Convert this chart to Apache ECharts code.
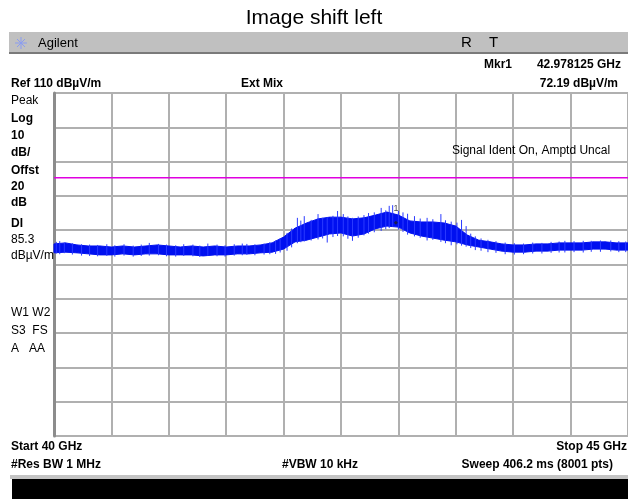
<!DOCTYPE html>
<html><head><meta charset="utf-8">
<script src="https://cdn.jsdelivr.net/npm/echarts@6/dist/echarts.min.js"></script>
<style>html,body{margin:0;padding:0;background:#fff}#c{width:628px;height:499px}</style>
</head><body><div id="c"></div>
<script>
// Frequency grid (GHz) for the trace envelope
const freqs = [40.0,40.1,40.2,40.3,40.4,40.5,40.6,40.7,40.8,40.9,41.0,41.1,41.2,41.3,41.4,41.5,41.6,41.7,41.8,41.9,42.0,42.1,42.2,42.3,42.4,42.5,42.6,42.7,42.8,42.9,43.0,43.1,43.2,43.3,43.4,43.5,43.6,43.7,43.8,43.9,44.0,44.1,44.2,44.3,44.4,44.5,44.6,44.7,44.8,44.9,45.0];
// Upper / lower envelope of the noisy trace (dBuV/m)
const upper = [66.0,66.3,65.7,65.4,65.4,65.1,65.4,65.1,65.4,65.7,65.4,65.1,65.4,65.1,65.4,65.1,65.4,65.4,65.7,66.3,68.0,70.6,72.1,73.3,73.8,73.8,73.3,73.6,74.4,75.3,74.4,72.7,72.4,72.4,72.1,71.2,68.6,67.1,66.6,66.0,65.7,65.7,66.0,66.0,66.3,66.3,66.3,66.6,66.6,66.3,66.3];
const lower = [63.4,63.6,63.4,63.1,62.8,62.8,63.1,62.8,63.1,63.1,62.8,62.8,62.8,62.5,62.8,62.8,63.1,63.1,63.4,63.6,64.5,66.6,67.1,68.0,68.9,69.2,68.3,68.9,70.4,71.2,70.9,69.2,68.3,67.7,67.1,66.6,65.7,65.1,64.5,63.9,63.6,63.6,63.9,63.9,64.2,64.2,64.2,64.5,64.5,64.2,64.2];
// Noise spikes: [freq, low, high]
const spikes = [
 [40.02,63.2,66.6],[40.05,63.0,66.8],[40.09,63.3,66.4],[40.16,62.9,66.2],[40.24,62.6,65.9],[40.31,62.5,65.8],[40.38,62.4,65.7],[40.46,62.5,65.9],[40.53,62.3,65.6],[40.61,62.6,65.9],[40.69,62.3,65.5],[40.76,62.5,65.8],[40.83,62.6,66.3],[40.91,62.7,66.0],[40.98,62.4,65.8],[41.06,62.3,65.6],[41.13,62.5,65.9],[41.21,62.4,65.8],[41.27,62.2,65.5],[41.34,62.5,66.1],[41.42,62.4,65.8],[41.49,62.3,65.6],[41.57,62.6,65.9],[41.64,62.7,66.1],[41.68,62.8,66.0],[41.75,62.7,65.9],[41.83,62.9,66.1],[41.88,63.0,66.5],[41.93,63.1,67.0],[41.97,63.5,67.6],[42.03,64.0,69.2],[42.07,65.0,70.5],[42.12,66.2,73.6],[42.15,66.5,72.8],[42.18,66.7,74.1],[42.24,67.0,73.0],[42.30,67.3,74.7],[42.34,67.6,73.6],[42.38,66.4,73.8],[42.43,68.0,74.2],[42.47,68.3,75.6],[42.52,68.2,74.7],[42.56,67.5,74.0],[42.60,66.9,73.6],[42.65,67.8,74.0],[42.70,68.5,74.4],[42.74,69.0,75.0],[42.79,69.4,75.2],[42.85,69.8,76.5],[42.89,70.3,75.8],[42.92,70.6,77.1],[42.95,71.0,77.3],[43.00,70.2,75.6],[43.04,69.5,75.2],[43.08,68.7,74.8],[43.14,68.2,74.1],[43.19,67.8,73.4],[43.25,67.0,73.6],[43.30,67.2,73.2],[43.37,66.6,74.7],[43.41,66.2,72.9],[43.46,65.6,72.5],[43.51,65.9,72.2],[43.55,65.5,73.0],[43.59,65.2,71.2],[43.63,64.8,69.0],[43.67,64.2,68.2],[43.72,64.0,67.6],[43.78,63.6,67.2],[43.85,63.4,66.8],[43.93,63.0,66.4],[44.01,62.9,66.2],[44.09,63.0,66.1],[44.17,63.2,66.4],[44.25,63.2,66.3],[44.33,63.4,66.6],[44.40,63.5,66.7],[44.45,63.5,66.9],[44.53,63.6,66.8],[44.61,63.5,66.9],[44.68,63.7,66.9],[44.76,63.7,67.0],[44.85,63.8,67.0],[44.92,63.6,66.8],[44.98,63.6,66.7]
];
const displayLine = 85.3;
const marker = [42.978125, 72.19];
const xTicks = {min:40, max:45, interval:0.5};
const yTicks = {min:10, max:110, interval:10};

const chart = echarts.init(document.getElementById('c'), null, {renderer:'canvas'});
const F = 'Liberation Sans, Arial, sans-serif';
const bandData = freqs.map((f,i)=>[f, lower[i], upper[i]]);
function txt(x,y,t,opt){return {type:'text',x:x,y:y,z:100,style:{text:t,fill:'#000',font:(opt&&opt.font)||('bold 12px '+F),textAlign:(opt&&opt.align)||'left',textVerticalAlign:'middle'}};}
const g = [
  {type:'rect',shape:{x:9,y:32,width:630,height:21},style:{fill:'#c0c0c0'}},
  {type:'rect',shape:{x:9,y:52,width:630,height:2},style:{fill:'#7a7a7a'}},
  {type:'rect',shape:{x:10,y:475,width:630,height:4},style:{fill:'#c4c4c4'}},
  {type:'rect',shape:{x:12,y:479,width:630,height:20},style:{fill:'#000'}},
  {type:'line',shape:{x1:15,y1:43,x2:27,y2:43},style:{stroke:'#8a9cf0',lineWidth:1}},
  {type:'line',shape:{x1:21,y1:37,x2:21,y2:49},style:{stroke:'#8a9cf0',lineWidth:1}},
  {type:'line',shape:{x1:17,y1:39,x2:25,y2:47},style:{stroke:'#8a9cf0',lineWidth:1}},
  {type:'line',shape:{x1:25,y1:39,x2:17,y2:47},style:{stroke:'#8a9cf0',lineWidth:1}},
  txt(38,43,'Agilent',{font:'13px '+F}),
  txt(461,43,'R',{font:'15px '+F}),
  txt(489,43,'T',{font:'15px '+F}),
  txt(484,65,'Mkr1'),
  txt(621,65,'42.978125 GHz',{align:'right'}),
  txt(11,84,'Ref 110 dBµV/m'),
  txt(241,84,'Ext Mix'),
  txt(618,84,'72.19 dBµV/m',{align:'right'}),
  txt(11,101,'Peak',{font:'12px '+F}),
  txt(11,119,'Log'),
  txt(11,136,'10'),
  txt(11,153,'dB/'),
  txt(11,171,'Offst'),
  txt(11,187,'20'),
  txt(11,203,'dB'),
  txt(11,224,'DI'),
  txt(11,240,'85.3',{font:'12px '+F}),
  txt(11,256,'dBµV/m',{font:'12px '+F}),
  txt(11,313,'W1 W2',{font:'12px '+F}),
  txt(11,331,'S3  FS',{font:'12px '+F}),
  txt(11,349,'A   AA',{font:'12px '+F}),
  txt(452,151,'Signal Ident On, Amptd Uncal',{font:'12px '+F}),
  txt(11,447,'Start 40 GHz'),
  txt(627,447,'Stop 45 GHz',{align:'right'}),
  txt(11,465,'#Res BW 1 MHz'),
  txt(282,465,'#VBW 10 kHz'),
  txt(613,465,'Sweep 406.2 ms (8001 pts)',{align:'right'})
];
chart.setOption({
  animation:false,
  backgroundColor:'#fff',
  title:{text:'Image shift left',left:'center',top:3,textStyle:{fontFamily:F,fontWeight:'normal',fontSize:21,color:'#000'}},
  grid:{left:54,top:93,width:582,height:343},
  xAxis:{type:'value',min:xTicks.min,max:xTicks.max,interval:xTicks.interval,
    axisLine:{show:false},axisTick:{show:false},axisLabel:{show:false},
    splitLine:{show:true,lineStyle:{color:'#b0b0b0',width:2}}},
  yAxis:{type:'value',min:yTicks.min,max:yTicks.max,interval:yTicks.interval,
    axisLine:{show:true,lineStyle:{color:'#8c8c8c',width:3}},axisTick:{show:false},axisLabel:{show:false},
    splitLine:{show:true,lineStyle:{color:'#b0b0b0',width:2}}},
  graphic:g,
  series:[
    {type:'line',data:[[xTicks.min,displayLine],[xTicks.max,displayLine]],symbol:'none',
      lineStyle:{color:'#e000e0',width:1.5},z:3},
    {type:'custom',data:bandData,z:4,
      renderItem:function(params,api){
        const i=params.dataIndex; if(i>=freqs.length-1) return null;
        const p=[api.coord([freqs[i],upper[i]]),api.coord([freqs[i+1],upper[i+1]]),api.coord([freqs[i+1],lower[i+1]]),api.coord([freqs[i],lower[i]])];
        return {type:'polygon',shape:{points:p},style:{fill:'#0010f0',stroke:'#0010f0',lineWidth:1}};
      }},
    {type:'custom',data:spikes,z:5,
      renderItem:function(params,api){
        const a=api.coord([api.value(0),api.value(1)]), b=api.coord([api.value(0),api.value(2)]);
        return {type:'line',shape:{x1:a[0],y1:a[1],x2:b[0],y2:b[1]},style:{stroke:'#2a3aff',lineWidth:1}};
      }},
    {type:'scatter',data:[marker],symbol:'diamond',symbolSize:4,itemStyle:{color:'#222'},z:6,
      label:{show:true,formatter:'1',position:'top',distance:8,fontSize:9,color:'#222',fontFamily:F}}
  ]
});
</script></body></html>
